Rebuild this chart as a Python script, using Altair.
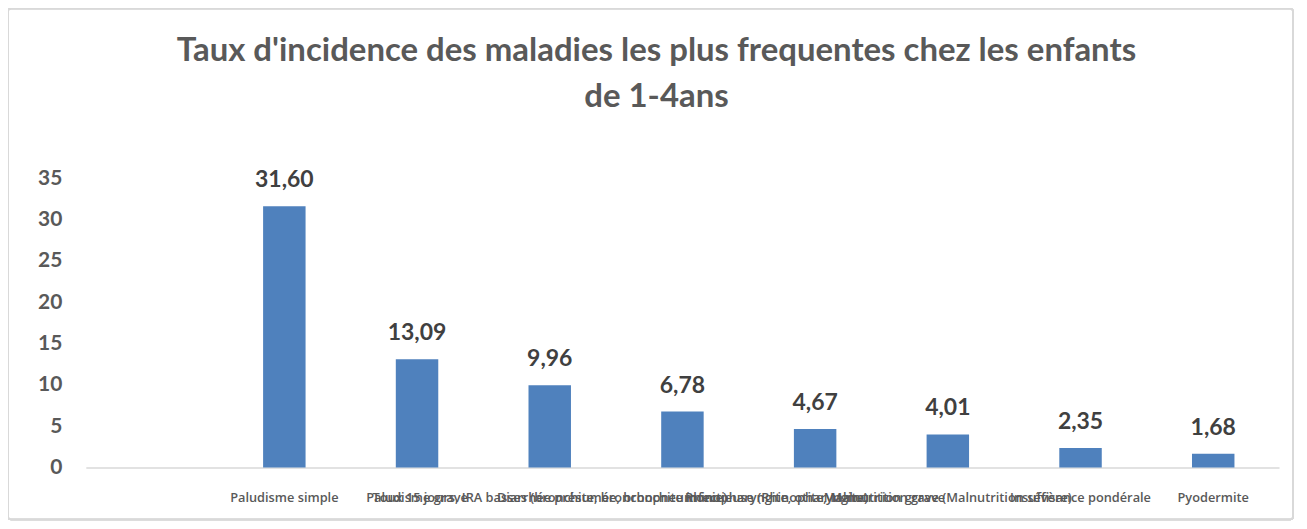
import altair as alt
import pandas as pd

categories = [
    " ",
    "Paludisme simple",
    "Paludisme grave",
    "Toux 15 jours, IRA basses (bronchite, bronchopneumonie)",
    "Diarrhée présumée, bronchite infectieuse (Rhinopharyngite)",
    "Rhinopharyngite, otite, Malnutrition grave",
    "Malnutrition grave (Malnutrition sévère)",
    "Insuffisance pondérale",
    "Pyodermite",
]
values = [None, 31.60, 13.09, 9.96, 6.78, 4.67, 4.01, 2.35, 1.68]
value_labels = ["", "31,60", "13,09", "9,96", "6,78", "4,67", "4,01", "2,35", "1,68"]

df = pd.DataFrame({"cat": categories, "val": values, "lab": value_labels})

W, H = 1196, 290
FONT = "Lato"

x = alt.X(
    "cat:N",
    sort=categories,
    scale=alt.Scale(paddingInner=0.68, paddingOuter=0.336),
    axis=alt.Axis(
        title=None, labelAngle=0, labelOverlap=False, labelLimit=0,
        labelFontSize=12.8, labelFont="Open Sans", labelFontWeight=600, labelColor="#595959",
        labelPadding=24, ticks=False, domainColor="#d9d9d9", domainWidth=1.5,
    ),
)
y = alt.Y(
    "val:Q",
    scale=alt.Scale(domain=[0, 35]),
    axis=alt.Axis(
        title=None, values=[0, 5, 10, 15, 20, 25, 30, 35], grid=False, domain=False,
        ticks=False, labelFontSize=21, labelFont=FONT, labelFontWeight="bold",
        labelColor="#595959", labelPadding=24,
    ),
)

bars = alt.Chart(df).mark_bar(color="#4f81bd").encode(x=x, y=y)
texts = alt.Chart(df).mark_text(
    dy=-19, baseline="alphabetic", fontSize=23, font=FONT, fontWeight="bold", color="#404040"
).encode(x=alt.X("cat:N", sort=categories), y="val:Q", text="lab:N")

border = alt.Chart(df).mark_rect(
    fill=None, stroke="#d9d9d9", strokeWidth=1.5, cornerRadius=3
).encode(
    x=alt.value(-78), x2=alt.value(W + 14), y=alt.value(-170), y2=alt.value(H + 52)
)

chart = alt.layer(border, bars, texts).properties(
    width=W,
    height=H,
    autosize=alt.AutoSizeParams(type="none"),
    padding={"left": 78, "top": 170, "right": 20, "bottom": 60},
    title=alt.TitleParams(
        text=["Taux d'incidence des maladies les plus frequentes chez les enfants", "de 1-4ans"],
        fontSize=33, font=FONT, fontWeight="bold", color="#595959",
        anchor="middle", frame="group", offset=-106, lineHeight=46, dx=-26,
    ),
).configure_view(stroke=None)

chart.save("out.html", embed_options={"renderer": "svg", "actions": False})
